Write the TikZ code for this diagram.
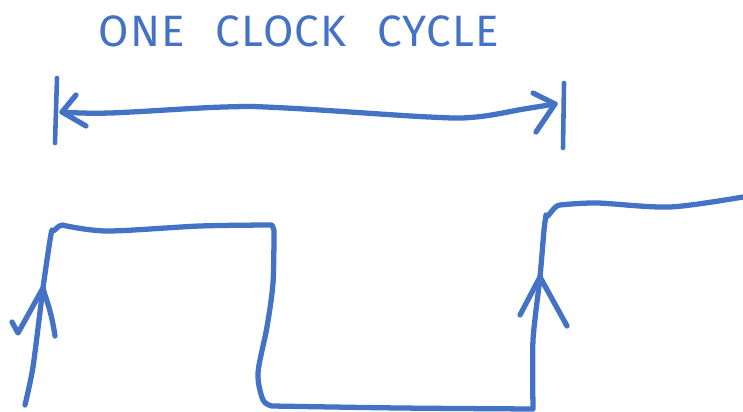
\documentclass[tikz,border=0pt]{standalone}
\usepackage{fontspec}
\usepackage{tikz}
\usetikzlibrary{calc}
\newfontfamily\sketchfont[LetterSpace=3]{Fira Sans}
\definecolor{penblue}{HTML}{4472C4}

\begin{document}
\begin{tikzpicture}[x=0.02cm,y=-0.02cm,
  pen/.style={draw=penblue,line width=3pt,line cap=round,line join=round},
  marker/.style={pen,line width=2.6pt},
  caption/.style={text=penblue,inner sep=0pt,
    font=\sketchfont\fontsize{25}{28}\selectfont}
]
\useasboundingbox (0,0) rectangle (743,412);

% Title and the span of one period.
\node[caption] (title) at (299,31) {ONE\hspace{0.7em}CLOCK\hspace{0.7em}CYCLE};
\coordinate (spanL) at (62,112);
\coordinate (spanR) at (555,104);
\draw[marker] (57,78) -- (55,143);
\draw[marker] (564,83) -- (563,148);
\draw[pen] plot[smooth,tension=.6] coordinates
  {(spanL) (110,113) (224,107) (286,108) (429,117) (476,117) (524,109) (spanR)};
\draw[pen] (76,95) -- (spanL) -- (86,126);
\draw[pen] (533,93) -- (spanR) -- (536,132);

% Clock waveform: high, low, high again.
\coordinate (riseA) at (43,288);
\coordinate (riseB) at (540,277);
\draw[pen] plot[smooth,tension=.4] coordinates
  {(25,405) (33,367) (riseA) (50,240) (52,230)}
  to[out=-80,in=180] (62,225)
  plot[smooth,tension=.5] coordinates
  {(62,225) (107,231) (200,226) (272,225)}
  -- (274,230)
  plot[smooth,tension=.5] coordinates
  {(274,230) (273,283) (267,327) (258,373) (263,400) (272,406)}
  plot[smooth,tension=.5] coordinates
  {(272,406) (400,408) (533,409)}
  plot[smooth,tension=.4] coordinates
  {(533,409) (533,340) (riseB) (544,230) (546,215)}
  to[out=-85,in=180] (560,205)
  plot[smooth,tension=.5] coordinates
  {(560,205) (597,203) (670,207) (743,197)};

% Rising-edge markers.
\draw[pen] (12,322) -- (18,333) -- (riseA) -- (45,295) to[bend left=5] (55,336);
\draw[pen] (520,315) -- (riseB) -- (567,326);
\end{tikzpicture}
\end{document}
